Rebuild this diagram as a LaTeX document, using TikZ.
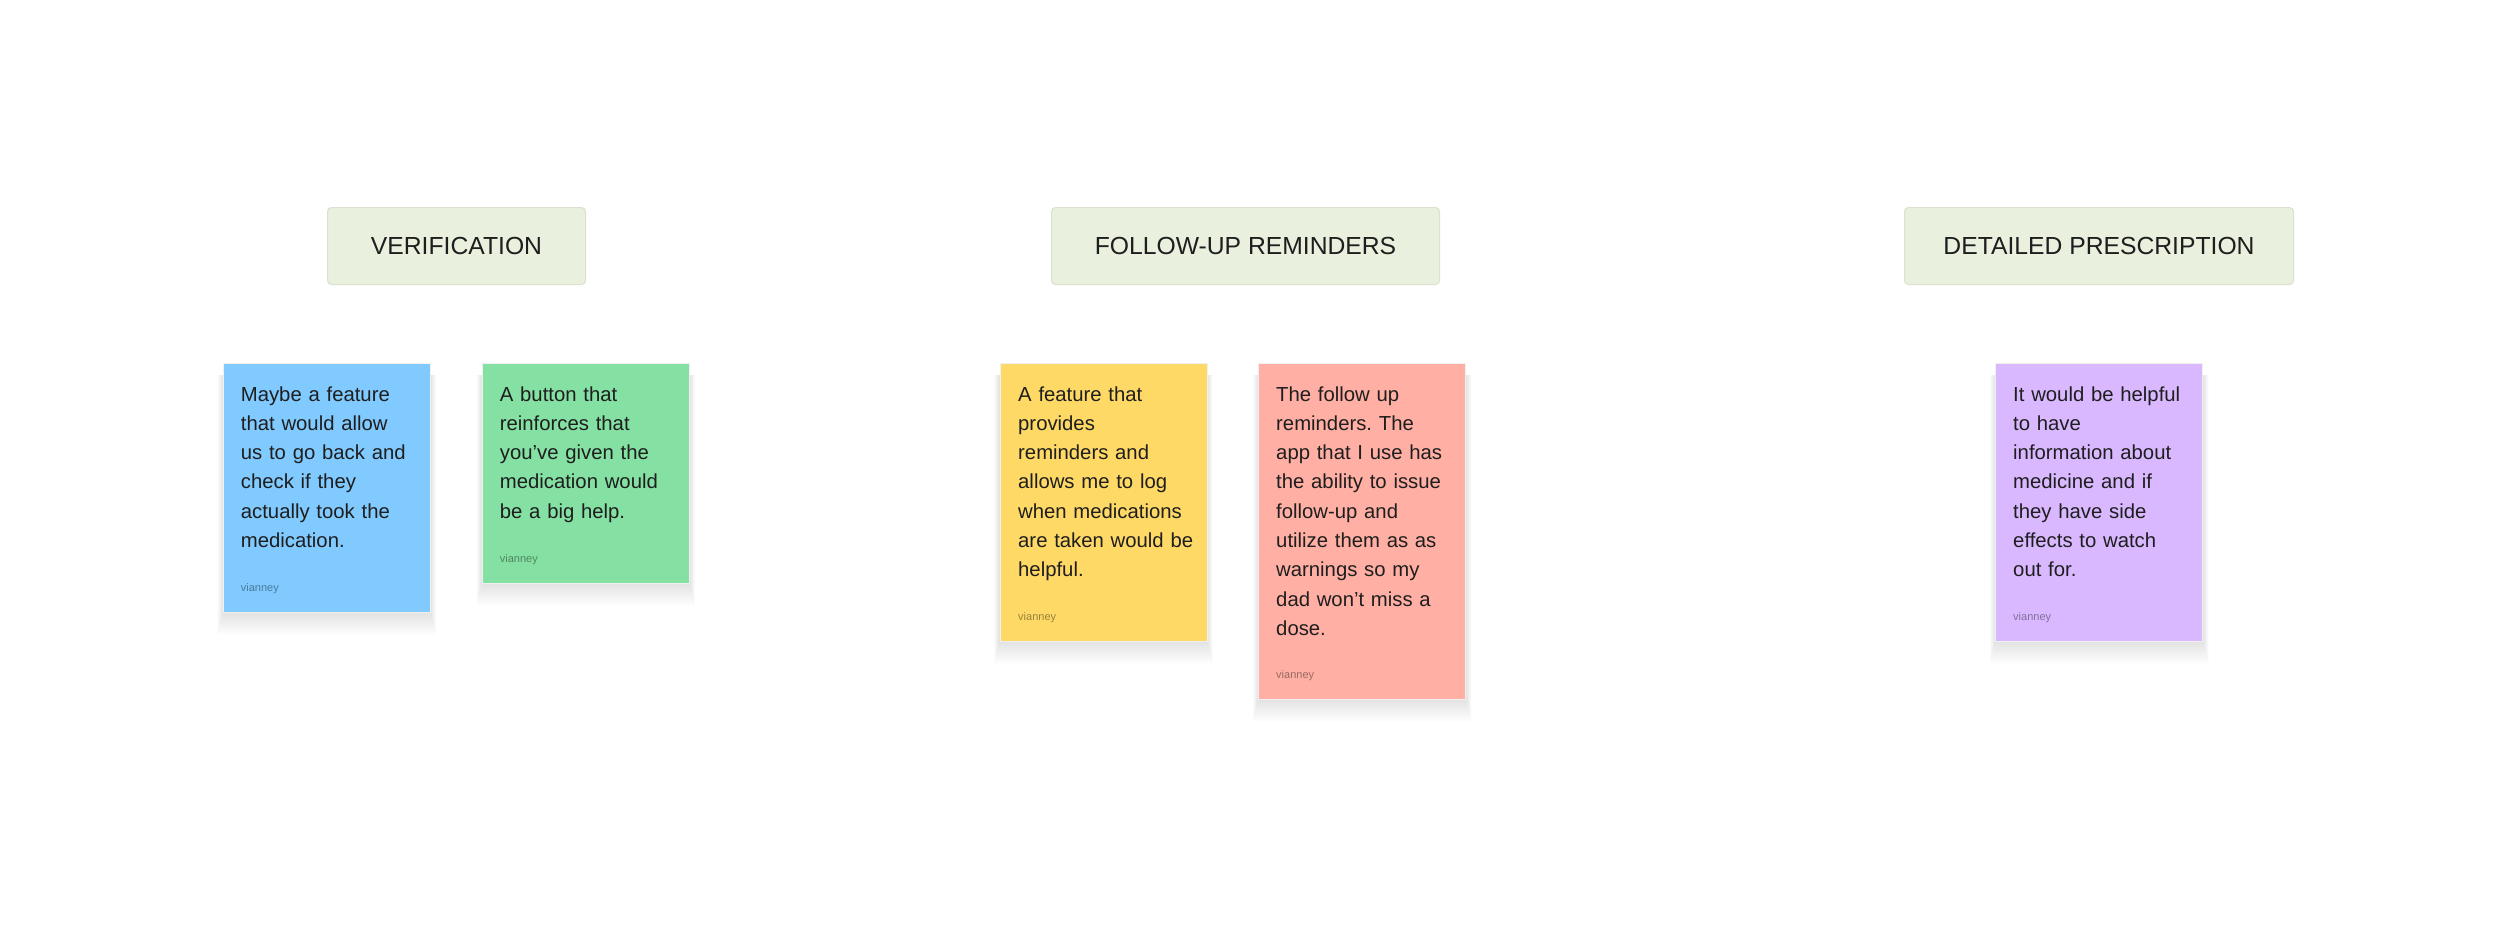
\documentclass[tikz,border=0pt]{standalone}
\usepackage{fontspec}
\setmainfont{Liberation Sans}
\usetikzlibrary{calc,backgrounds}
\definecolor{ink}{HTML}{1E1E1E}
\definecolor{hdr}{HTML}{E9F1DE}
\definecolor{hdrborder}{HTML}{DAE2CF}
\definecolor{sblue}{HTML}{80CAFF}
\definecolor{sgreen}{HTML}{85E0A3}
\definecolor{syellow}{HTML}{FFD966}
\definecolor{sred}{HTML}{FFAFA3}
\definecolor{spurple}{HTML}{D9B8FF}
\frenchspacing
\tikzset{
  header/.style={draw=hdrborder, line width=1pt, fill=hdr, rounded corners=4pt,
    anchor=north west, inner sep=0pt, minimum height=77pt,
    font=\fontsize{24.7}{28}\selectfont, text=ink, text height=17.7pt, text depth=0pt},
  sticky/.style={anchor=north west, inner sep=0pt, minimum width=207pt,
    draw=black!6, line width=0.8pt},
  body/.style={anchor=base west, text width=192pt, align=left, inner sep=0pt,
    font=\fontsize{20.3}{29.33}\selectfont, text=ink},
  author/.style={anchor=base west, inner sep=0pt,
    font=\fontsize{11}{13}\selectfont, text=black, text opacity=0.4}
}
\begin{document}
\begin{tikzpicture}[x=1pt,y=-1pt]
\useasboundingbox (0,0) rectangle (2500,935);

% headers
\node[header, minimum width=258pt] (h1) at (327,207) {VERIFICATION};
\node[header, minimum width=388pt] (h2) at (1051,207) {FOLLOW-UP REMINDERS};
\node[header, minimum width=389pt] (h3) at (1904,207) {DETAILED PRESCRIPTION};

% stickies
\node[sticky, fill=sblue, minimum height=249pt] (s1) at (223,362.7) {};
\node[body] (s1t) at ($(s1.north west)+(17.7,38.3)$)
  {Maybe a feature\\that would allow\\us to go back and\\check if they\\actually took the\\medication.};
\node[author] (s1a) at ($(s1.south west)+(17.7,-21)$) {vianney};

\node[sticky, fill=sgreen, minimum height=220pt] (s2) at (482,362.7) {};
\node[body] (s2t) at ($(s2.north west)+(17.7,38.3)$)
  {A button that\\reinforces that\\you’ve given the\\medication would\\be a big help.};
\node[author] (s2a) at ($(s2.south west)+(17.7,-21)$) {vianney};

\node[sticky, fill=syellow, minimum height=278pt] (s3) at (999.5,362.7) {};
\node[body] (s3t) at ($(s3.north west)+(18.5,38.3)$)
  {A feature that\\provides\\reminders and\\allows me to log\\when medications\\are taken would be\\helpful.};
\node[author] (s3a) at ($(s3.south west)+(18.5,-21)$) {vianney};

\node[sticky, fill=sred, minimum height=336pt] (s4) at (1258.3,362.7) {};
\node[body] (s4t) at ($(s4.north west)+(17.7,38.3)$)
  {The follow up\\reminders. The\\app that I use has\\the ability to issue\\follow-up and\\utilize them as as\\warnings so my\\dad won’t miss a\\dose.};
\node[author] (s4a) at ($(s4.south west)+(17.7,-21)$) {vianney};

\node[sticky, fill=spurple, minimum height=278pt] (s5) at (1995.3,362.7) {};
\node[body] (s5t) at ($(s5.north west)+(17.7,38.3)$)
  {It would be helpful\\to have\\information about\\medicine and if\\they have side\\effects to watch\\out for.};
\node[author] (s5a) at ($(s5.south west)+(17.7,-21)$) {vianney};

% background and soft shadows
\begin{scope}[on background layer]
  \fill[white] (0,0) rectangle (2500,935);
  \foreach \n in {s1,s2,s3,s4,s5} {
    \foreach \e in {1,...,14} {
      \fill[black, opacity=0.0065]
        ($(\n.north west)+(-0.4*\e,12)$) rectangle ($(\n.south east)+(0.4*\e,1.6*\e)$);
    }
  }
\end{scope}
\end{tikzpicture}
\end{document}
